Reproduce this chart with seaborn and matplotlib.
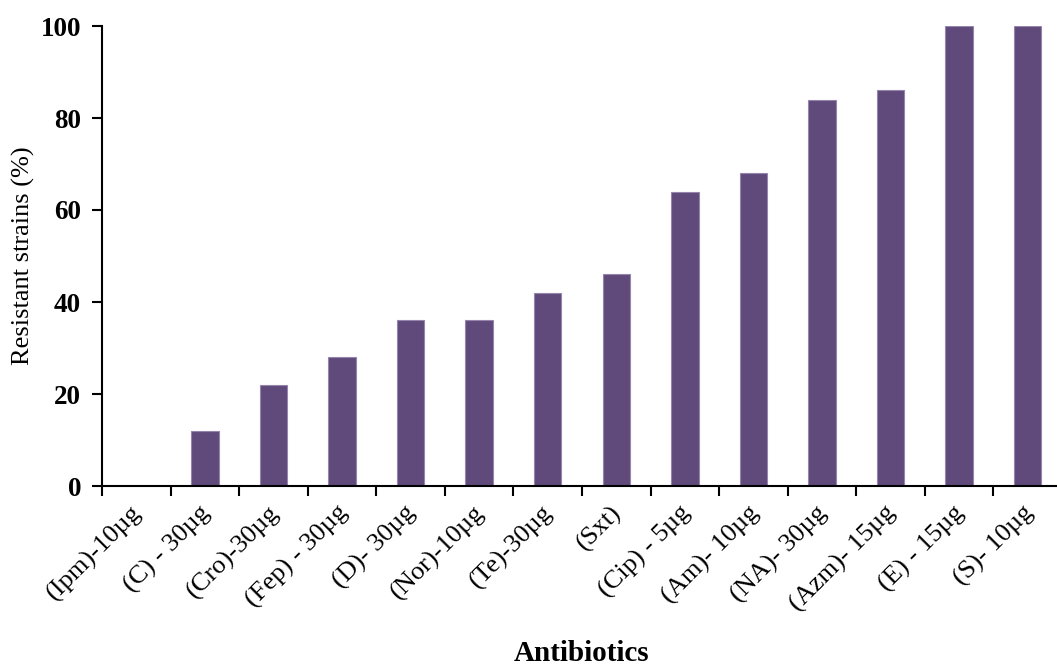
import matplotlib
matplotlib.use("Agg")
import matplotlib.pyplot as plt
import matplotlib.transforms as mtransforms
import seaborn as sns
import pandas as pd

antibiotics = ['(Ipm)-10µg', '(C) - 30µg', '(Cro)-30µg', '(Fep) - 30µg', '(D)- 30µg',
               '(Nor)-10µg', '(Te)-30µg', '(Sxt)', '(Cip) - 5µg', '(Am)- 10µg',
               '(NA)- 30µg', '(Azm)- 15µg', '(E) - 15µg', '(S)- 10µg']
resistant = [0, 12, 22, 28, 36, 36, 42, 46, 64, 68, 84, 86, 100, 100]

df = pd.DataFrame({'Antibiotics': antibiotics, 'Resistant': resistant})

sns.set_style('white')
plt.rcParams['font.family'] = ['Liberation Serif', 'DejaVu Serif']
plt.rcParams['text.color'] = 'black'
plt.rcParams['axes.labelcolor'] = 'black'
plt.rcParams['xtick.color'] = 'black'
plt.rcParams['ytick.color'] = 'black'

fig = plt.figure(figsize=(10.57, 6.68), dpi=100)
ax = fig.add_axes([102 / 1057, 182 / 668, 960 / 1057, 460 / 668])

sns.barplot(data=df, x='Antibiotics', y='Resistant', color='#604A7B', saturation=1,
            width=0.4, edgecolor='#9585ad', linewidth=0.8, ax=ax)

ax.set_ylim(0, 100)
ax.set_xlim(-0.5, len(antibiotics) - 0.5)
ax.set_yticks(range(0, 101, 20))
ax.tick_params(axis='y', which='major', left=True, direction='out', length=7, width=1.5,
               color='black', labelcolor='black', labelsize=19.5, pad=8)
for lab in ax.get_yticklabels():
    lab.set_fontweight('bold')

# ticks sit between categories, labels under the bars
ax.set_xticks([i - 0.5 for i in range(len(antibiotics) + 1)], minor=True)
ax.tick_params(axis='x', which='minor', bottom=True, direction='out', length=7, width=1.5,
               color='black')
ax.tick_params(axis='x', which='major', bottom=True, length=0, pad=17, labelcolor='black')
ax.set_xticks(range(len(antibiotics)))
ax.set_xticklabels(antibiotics, rotation=45, ha='right', va='center',
                   rotation_mode='anchor', fontsize=19)
offset = mtransforms.ScaledTranslation(2 / 100, 0, fig.dpi_scale_trans)
for lab in ax.get_xticklabels():
    lab.set_transform(lab.get_transform() + offset)

for side in ['top', 'right']:
    ax.spines[side].set_visible(False)
for side in ['left', 'bottom']:
    ax.spines[side].set_color('black')
    ax.spines[side].set_linewidth(1.5)

ax.set_ylabel('Resistant strains (%)', fontsize=19, labelpad=4)
ax.set_xlabel('Antibiotics', fontsize=21, fontweight='bold', va='center')
ax.xaxis.set_label_coords(0.5, -0.365)

fig.savefig('out.png', dpi=100)
